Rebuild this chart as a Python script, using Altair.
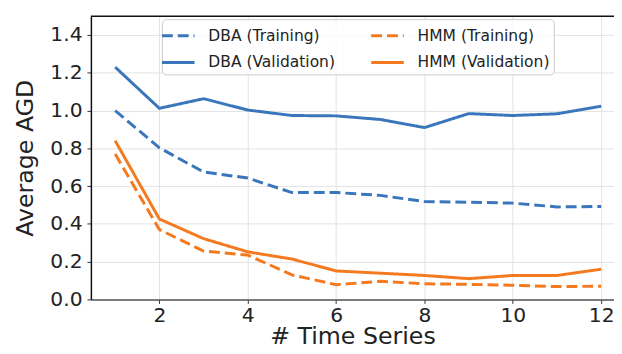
import altair as alt
import pandas as pd

x_vals = [1, 2, 3, 4, 5, 6, 7, 8, 9, 10, 11, 12]
dba_train = [1.00, 0.803, 0.675, 0.643, 0.566, 0.566, 0.551, 0.518, 0.515, 0.510, 0.490, 0.492]
dba_val = [1.23, 1.012, 1.063, 1.003, 0.974, 0.972, 0.953, 0.910, 0.984, 0.974, 0.983, 1.023]
hmm_train = [0.77, 0.370, 0.256, 0.235, 0.130, 0.078, 0.096, 0.083, 0.080, 0.075, 0.068, 0.070]
hmm_val = [0.84, 0.426, 0.322, 0.252, 0.214, 0.151, 0.139, 0.127, 0.110, 0.127, 0.127, 0.160]

series_order = ["DBA (Training)", "DBA (Validation)", "HMM (Training)", "HMM (Validation)"]
series_values = {
    "DBA (Training)": dba_train,
    "HMM (Training)": hmm_train,
    "DBA (Validation)": dba_val,
    "HMM (Validation)": hmm_val,
}
colors = ["#3a76bc", "#3a76bc", "#f47a20", "#f47a20"]
dashes = [[11, 5], [1, 0], [11, 5], [1, 0]]

rows = []
for name in series_order:
    for xv, yv in zip(x_vals, series_values[name]):
        rows.append({"x": xv, "y": yv, "series": name})
df = pd.DataFrame(rows)

W, H = 530, 287
FONT = "DejaVu Sans"

lines = alt.Chart(df).mark_line(strokeWidth=3, strokeCap="butt").encode(
    x=alt.X("x:Q", scale=alt.Scale(domain=[0.45, 12.29], nice=False, zero=False),
            axis=alt.Axis(values=[2, 4, 6, 8, 10, 12], title="# Time Series",
                          domainColor="#555555", titleY=45, titleBaseline="alphabetic",
                          labelPadding=2)),
    y=alt.Y("y:Q", scale=alt.Scale(domain=[0, 1.5], nice=False),
            axis=alt.Axis(values=[0, 0.2, 0.4, 0.6, 0.8, 1.0, 1.2, 1.4], format=".1f",
                          title="Average AGD", domainColor="#111111",
                          titleX=-59, titleBaseline="alphabetic", labelPadding=5)),
    color=alt.Color("series:N", scale=alt.Scale(domain=series_order, range=colors),
                    legend=alt.Legend(title=None, orient="none", legendX=72, legendY=3,
                                      columns=2, symbolType="M-1.5,0H1.5", symbolSize=484,
                                      symbolStrokeWidth=3, labelFontSize=15.7,
                                      labelFont=FONT, labelColor="#222222",
                                      columnPadding=30, rowPadding=6.5, labelOffset=18,
                                      padding=4, fillColor="rgba(255,255,255,0.8)",
                                      strokeColor="#cccccc", cornerRadius=4)),
    strokeDash=alt.StrokeDash("series:N", scale=alt.Scale(domain=series_order, range=dashes),
                              legend=alt.Legend(title=None)),
)

top_spine = alt.Chart(pd.DataFrame({"v": [1.5]})).mark_rule(color="#111111", strokeWidth=1.5).encode(
    y=alt.Y("v:Q"), x=alt.value(0), x2=alt.value(W)
)

chart = alt.layer(lines, top_spine).properties(
    width=W, height=H,
    autosize=alt.AutoSizeParams(type="none"),
    padding={"left": 84, "top": 6, "right": 0, "bottom": 53},
).configure_view(stroke=None).configure_axis(
    labelFont=FONT, titleFont=FONT, labelFontSize=20.5, titleFontSize=24,
    labelColor="#222222", titleColor="#222222", titleFontWeight="normal",
    gridColor="#e3e3e3", gridWidth=1, tickColor="#333333", tickSize=4, tickWidth=1,
    domainWidth=1.5,
)

chart.save("out.html", embed_options={"renderer": "svg", "actions": False})
